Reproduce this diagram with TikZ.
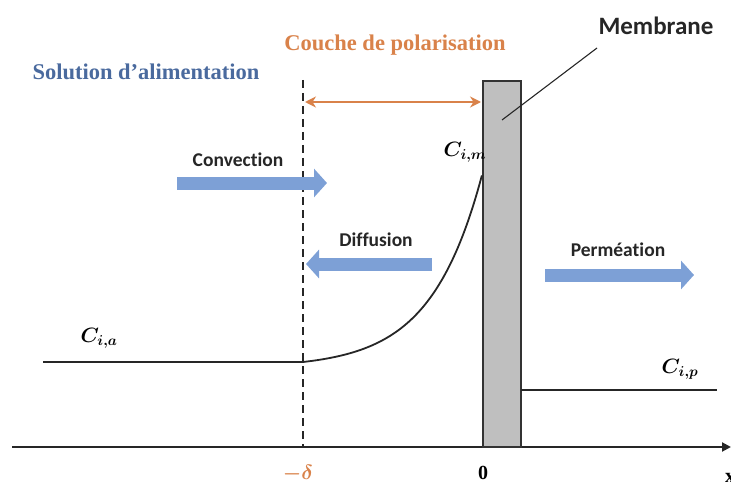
\documentclass[tikz,border=0pt]{standalone}
\usepackage{fontspec}
\setmainfont{Liberation Serif}
\newfontfamily\calibf[Ligatures={NoCommon}]{Carlito}
\usetikzlibrary{arrows.meta}
\definecolor{flowblue}{HTML}{7DA0D6}
\definecolor{solblue}{HTML}{4A6A9E}
\definecolor{orng}{HTML}{D9824A}
\definecolor{membgray}{HTML}{BFBFBF}
\begin{document}
\begin{tikzpicture}[x=1pt,y=-1pt,
  flow/.style={flowblue, line width=13pt, -{Triangle[length=13pt,width=28pt]}},
  flowlbl/.style={inner sep=0pt, font=\calibf\bfseries\fontsize{19.5}{22}\selectfont},
  conc/.style={inner sep=0pt, font=\boldmath\fontsize{22}{24}\selectfont},
  level/.style={line width=2.2pt, black!85},
  ttl/.style={inner sep=0pt, font=\bfseries\fontsize{22.5}{25}\selectfont}]
\useasboundingbox (0,0) rectangle (731,484);
% axis
\coordinate (ax0) at (12,447);
\coordinate (ax1) at (731,447);
\draw[line width=2pt, black!85, -{Triangle[length=9pt,width=9pt]}] (ax0) -- (ax1);
% membrane
\node[draw=black!80, line width=1.2pt, fill=membgray, minimum width=38pt, minimum height=366pt, inner sep=0pt] (memb) at (502,264) {};
% dashed line
\coordinate (dtop) at (303,80);
\coordinate (dbot) at (303,447);
\draw[line width=2pt, black!85, dash pattern=on 8pt off 5pt] (dtop) -- (dbot);
% concentration levels
\coordinate (ca0) at (43,362);
\coordinate (ca1) at (303,362);
\draw[level] (ca0) -- (ca1);
\draw[line width=1.8pt, black!85] plot[domain=0:1, samples=80, smooth] ({303+179*\x}, {362-187*(exp(3.5*\x)-1)/(exp(3.5)-1)});
\coordinate (cp0) at (521,390);
\coordinate (cp1) at (717,390);
\draw[level] (cp0) -- (cp1);
% polarisation arrow
\coordinate (pa0) at (305,102);
\coordinate (pa1) at (481,102);
\draw[orng, line width=2.6pt, {Stealth[length=11pt,width=11pt]}-{Stealth[length=11pt,width=11pt]}] (pa0) -- (pa1);
% flow arrows
\coordinate (cv0) at (177,183);
\coordinate (cv1) at (327,183);
\draw[flow] (cv0) -- (cv1);
\coordinate (df0) at (432,264);
\coordinate (df1) at (306,264);
\draw[flow] (df0) -- (df1);
\coordinate (pm0) at (545,275);
\coordinate (pm1) at (694,275);
\draw[flow] (pm0) -- (pm1);
% membrane leader
\coordinate (ml0) at (502,120);
\coordinate (ml1) at (597,48);
\draw[line width=1.1pt, black!85] (ml0) -- (ml1);
% labels
\node[inner sep=0pt, font=\calibf\bfseries\fontsize{25}{28}\selectfont, black!85] (membl) at (656,26) {Membrane};
\node[ttl, orng] (couche) at (395,45) {Couche de polarisation};
\node[ttl, solblue] (sol) at (146,72) {Solution d'alimentation};
\node[flowlbl, black!85] (convl) at (238,160) {Convection};
\node[flowlbl, black!85] (diffl) at (376,240) {Diffusion};
\node[flowlbl, black!85] (perml) at (618,250) {Perméation};
\node[conc] (cia) at (99,338) {$C_{i,a}$};
\node[conc] (cim) at (465,152) {$C_{i,m}$};
\node[conc] (cip) at (680,369) {$C_{i,p}$};
\node[inner sep=0pt, orng, font=\boldmath\bfseries\fontsize{20}{22}\selectfont] (delta) at (298,474) {$-\delta$};
\node[inner sep=0pt, font=\bfseries\fontsize{20}{22}\selectfont] (zero) at (483,473) {0};
\node[inner sep=0pt, font=\bfseries\fontsize{20}{22}\selectfont, anchor=west] (xl) at (725,478) {x};
\end{tikzpicture}
\end{document}
